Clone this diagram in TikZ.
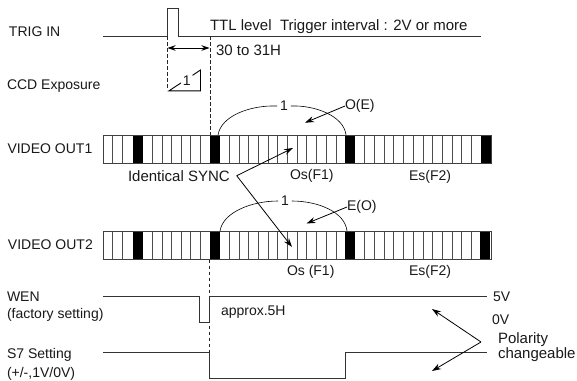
\documentclass[tikz,border=0pt]{standalone}
\usepackage{fontspec}
\setmainfont{Liberation Sans}
\usetikzlibrary{arrows.meta}
\tikzset{
  txt/.style={inner sep=0pt,outer sep=0pt,font=\fontsize{14}{16}\selectfont,text=black!90},
  lbl/.style={txt,anchor=west},
  big/.style={font=\fontsize{15}{16}\selectfont},
  wave/.style={line width=1pt,draw=black!80},
  dashline/.style={line width=0.9pt,draw=black!85,dash pattern=on 3.5pt off 2.5pt},
  cellline/.style={line width=0.8pt,draw=black!70},
  frameline/.style={line width=1pt,draw=black!75},
  syncblock/.style={fill=black,draw=none},
  pointer/.style={line width=0.8pt,draw=black,-{Stealth[length=9pt,width=6pt]}},
  dbl/.style={line width=0.9pt,draw=black,{Stealth[length=8pt,width=5.5pt]}-{Stealth[length=8pt,width=5.5pt]}},
  thincurve/.style={line width=0.6pt,draw=black}
}
\begin{document}
\begin{tikzpicture}[x=1pt,y=-1pt]
\useasboundingbox (0,0) rectangle (577,380);
\fill[white] (0,0) rectangle (577,380);
% left labels
\node[lbl] (trig) at (9,31.7) {TRIG IN};
\node[lbl] (ccd) at (7,86) {CCD Exposure};
\node[lbl] (v1) at (7.5,149) {VIDEO OUT1};
\node[lbl] (v2) at (8,245) {VIDEO OUT2};
\node[lbl] (wen) at (7,296.5) {WEN};
\node[lbl] (wenb) at (7,315) {(factory setting)};
\node[lbl] (s7) at (7,355) {S7 Setting};
\node[lbl] (s7b) at (7,373.5) {(+/-,1V/0V)};
% trigger
\draw[wave] (103,36) -- (167.5,36) -- (167.5,8) -- (178,8) -- (178,36) -- (481,36);
\draw[dashline] (167.5,36) -- (167.5,90);
\draw[dashline] (210,36) -- (210,135);
\coordinate (tl) at (167.5,48);
\coordinate (tr) at (209.5,48);
\draw[dbl] (tl) -- (tr);
\node[lbl,big] (ttl) at (210,26.7) {TTL level\ \ Trigger interval : 2V or more};
\node[lbl,big] (h31) at (216,50) {30 to 31H};
% exposure triangle
\node[txt] (one0) at (186.7,80.7) {1};
\coordinate (ta) at (169,90.8);
\coordinate (tb) at (200.5,70);
\coordinate (tc) at (200.5,90.8);
\draw[thincurve,line width=0.9pt] (181,82.9) -- (ta) -- (tc) -- (tb) -- (192.5,75.3);
% video bands
\foreach \ya/\yb/\lastb in {135/163/481,231/259.5/480}{
  \foreach \x in {112,122.5, 152.4,161.9,171.4,180.9,190.4,199.9,
     229.2,238.9,248.6,258.3,268,277.7,287.4,297.1,306.8,316.5,326.2,335.9}
    \draw[cellline] (\x,\ya) -- (\x,\yb);
  \foreach \i in {1,...,12}
    \draw[cellline] ({355+\i*9.7},\ya) -- ({355+\i*9.7},\yb);
  \foreach \x/\w in {133/10,209.5/10,345/10,\lastb/10}
    \fill[syncblock] (\x,\ya) rectangle ({\x+\w},\yb);
  \draw[frameline] (103,\yb) -- (103,\ya) -- (491,\ya) -- (491,\yb) -- cycle;
}
\node[txt] (one1) at (284,106) {1};
\node[txt] (one2) at (285,201) {1};
\draw[thincurve] (218,135) .. controls (221,116) and (250,105) .. ([xshift=-3pt]one1.west);
\draw[thincurve] ([xshift=3pt]one1.east) .. controls (315,105) and (344,116) .. (346,135);
\draw[thincurve] (220,231) .. controls (223,212) and (252,201) .. ([xshift=-3pt]one2.west);
\draw[thincurve] ([xshift=3pt]one2.east) .. controls (318,201) and (345,212) .. (347,231);
% band labels
\node[lbl,big] (sync) at (128,176) {Identical SYNC};
\node[lbl] (os1) at (290,176) {Os(F1)};
\node[lbl] (es1) at (409,176.5) {Es(F2)};
\node[lbl] (os2) at (287,272) {Os (F1)};
\node[lbl] (es2) at (409,272) {Es(F2)};
\node[lbl] (oe) at (345,106) {O(E)};
\node[lbl] (eo) at (347,207) {E(O)};
\coordinate (oeh) at (305,122.7);
\coordinate (eoh) at (306.5,223.5);
\draw[pointer] (oe.west) -- (oeh);
\draw[pointer] (eo.west) -- (eoh);
\coordinate (syncapex) at (236.7,175.7);
\coordinate (sh1) at (293,148);
\coordinate (sh2) at (292,247);
\draw[pointer] (syncapex) -- (sh1);
\draw[pointer] (syncapex) -- (sh2);
% WEN, S7
\draw[dashline] (209.5,259.5) -- (209.5,353);
\draw[wave] (103,296) -- (199.5,296) -- (199.5,322.7) -- (209.5,322.7) -- (209.5,296) -- (487,296);
\draw[wave] (103,352.7) -- (209.5,352.7) -- (209.5,378) -- (345,378) -- (345,352.7) -- (487,352.7);
\node[lbl] (ap) at (221,311.7) {approx.5H};
\node[lbl] (v5) at (493,296.7) {5V};
\node[lbl] (v0) at (492,320) {0V};
\node[lbl,big] (pol) at (498,340) {Polarity};
\node[lbl,big] (chg) at (498,355) {changeable};
\coordinate (papex) at (481,342);
\coordinate (ph1) at (432,309);
\coordinate (ph2) at (432,371);
\draw[pointer] (papex) -- (ph1);
\draw[pointer] (papex) -- (ph2);
\end{tikzpicture}
\end{document}
